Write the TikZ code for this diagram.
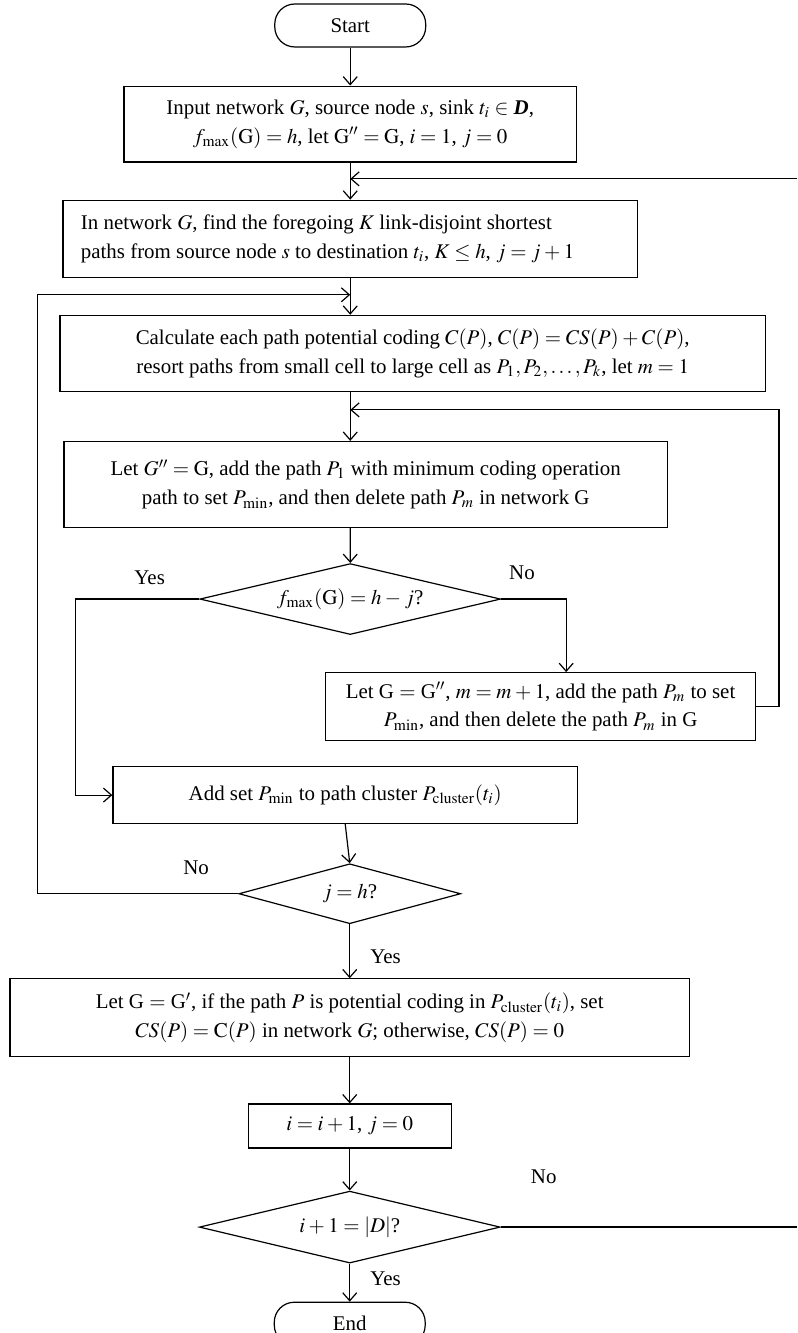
\documentclass[tikz,border=0pt]{standalone}
\usepackage{amsmath}
\usepackage{mathptmx}
\usepackage{fontspec}
\setmainfont{Liberation Serif}
\usetikzlibrary{arrows.meta,positioning,shapes.geometric,calc}

\thickmuskip=4mu plus 2mu
\medmuskip=3mu plus 1mu

\tikzset{
  box/.style={draw, rectangle, align=center, inner sep=2bp},
  term/.style={draw, rectangle, rounded corners=10bp, minimum width=75.5bp, minimum height=21.5bp},
  decide/.style={draw, diamond, aspect=4.2, inner sep=0.5bp},
  lbl/.style={inner sep=1bp},
}

\begin{document}
\begin{tikzpicture}[line width=0.6bp, >={Straight Barb[length=4bp,width=7bp]}, font=\fontsize{10.5}{14.5}\selectfont]
            \useasboundingbox (0,0) rectangle (399bp,-667bp);
            \node [term] (start) at (175.25bp,-12.75bp) {Start};
            \node [box, minimum width=226.5bp, minimum height=38bp, below=19bp of start] (input) {Input network $G$, source node $s$, sink $t_i \in$ \textbf{\textit{D}},\\ $f_{\max}(\mathrm{G}) = h$, let $\mathrm{G}'' = \mathrm{G}$, $i = 1$,~$j = 0$};
            \node [box, align=flush left, text width=269.5bp, minimum width=287.5bp, minimum height=38.5bp, below=18.5bp of input] (find) {In network $G$, find the foregoing $K$ link-disjoint shortest\\ paths from source node $s$ to destination $t_i$, $K \le h$, $j = j + 1$};
            \node [box, minimum width=353bp, minimum height=38bp, below=18.5bp of find, xshift=31.25bp] (calc) {Calculate each path potential coding $C(P)$, $C(P) = CS(P) + C(P)$,\\ resort paths from small cell to large cell as $P_1, P_2, \ldots, P_k$, let $m = 1$};
            \node [box, minimum width=302bp, minimum height=43bp, below=24.5bp of calc, xshift=-23.5bp] (letg) {Let $G'' = \mathrm{G}$, add the path $P_1$ with minimum coding operation\\ path to set $P_{\min}$, and then delete path $P_m$ in network G};
            \node [decide, minimum width=150.5bp, minimum height=35.5bp, below=17.5bp of letg, xshift=-7.75bp] (dec1) {$f_{\max}(\mathrm{G}) = h - j$?};
            \node [box, minimum width=215bp, minimum height=34bp, below=18.5bp of dec1, xshift=95.25bp] (upd) {Let G $=$ G$''$, $m = m + 1$, add the path $P_m$ to set\\ $P_{\min}$, and then delete the path $P_m$ in G};
            \node [box, minimum width=232.5bp, minimum height=28.5bp, below=65.5bp of dec1, xshift=-2.5bp] (add) {Add set $P_{\min}$ to path cluster $P_{\mathrm{cluster}}(t_i)$};
            \node [decide, minimum width=111bp, minimum height=30bp, below=19.5bp of add, xshift=2.25bp] (dec2) {$j = h$?};
            \node [box, minimum width=340bp, minimum height=39bp, below=27bp of dec2] (reset) {Let G $=$ G$'$, if the path $P$ is potential coding in $P_{\mathrm{cluster}}(t_i)$, set\\ $CS(P) = \mathrm{C}(P)$ in network $G$; otherwise, $CS(P) = 0$};
            \node [box, minimum width=101.5bp, minimum height=22bp, below=23bp of reset] (inc) {$i = i + 1$, $j = 0$};
            \node [decide, minimum width=150.5bp, minimum height=36bp, below=21bp of inc] (dec3) {$i + 1 = |D|$?};
            \node [term, below=19bp of dec3] (end) {End};
            % join points
            \coordinate (fromright) at (399bp,-89.5bp);
            \coordinate (joina) at ($(find.south)+(0,-8.5bp)$);
            \coordinate (joinb) at ($(calc.south -| start)+(0,-9bp)$);
            \coordinate (outright) at (dec3.east -| fromright);
            \draw [->] (start) -- (input);
            \draw [->] (input) -- (find);
            \draw [->] (fromright) -- (fromright -| input);
            \draw [->] (find.south) -- (find.south |- calc.north);
            \draw [->] (dec2.west) -- node [lbl, pos=0.21, above=8bp] {No} ++(-100.5bp,0) |- (joina);
            \draw [->] (calc.south -| start) -- (letg.north -| start);
            \draw [->] (letg.south -| start) -- (dec1);
            \draw [->] (dec1.west) -- node [lbl, pos=0.4, above=6bp] {Yes} ++(-62bp,0) |- (add.west);
            \draw [->] (dec1.east) -- node [lbl, pos=0.32, above=8.5bp] {No} ++(32.5bp,0) coordinate (nobend) -- (nobend |- upd.north);
            \draw [->] (upd.east) -- ++(11.5bp,0) |- (joinb);
            \draw [->] (add.south) -- (dec2.north);
            \draw [->] (dec2) -- node [lbl, pos=0.6, right=9bp] {Yes} (reset);
            \draw [->] (reset) -- (inc);
            \draw [->] (inc) -- (dec3);
            \draw (dec3.east) -- node [lbl, pos=0.145, above=20.5bp] {No} (outright);
            \draw [->] (dec3) -- node [lbl, pos=0.4, right=9bp] {Yes} (end);
            \end{tikzpicture}
\end{document}
